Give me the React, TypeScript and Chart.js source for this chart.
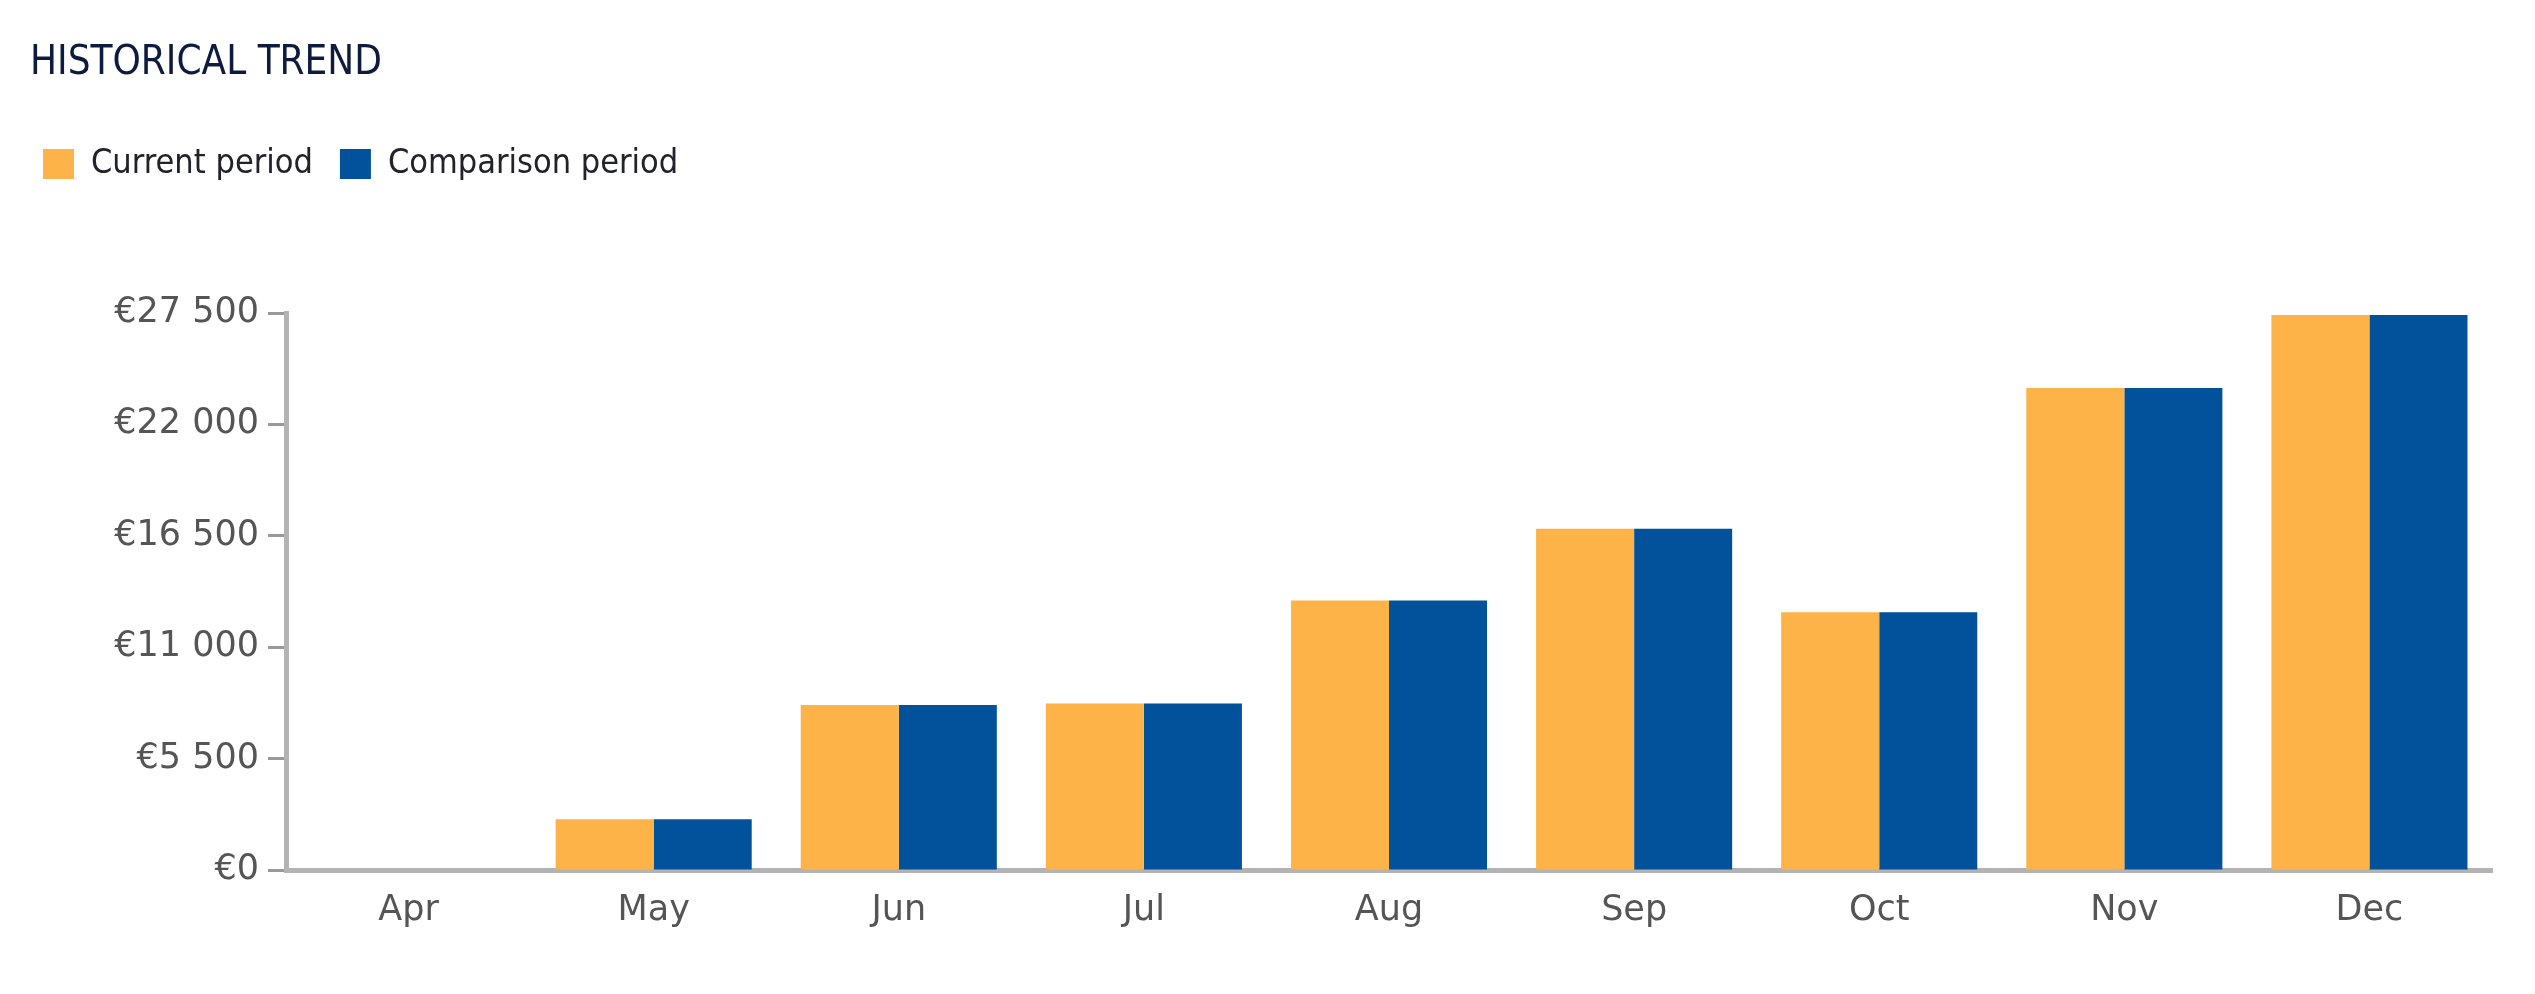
import React, { useEffect, useRef } from "react";
import { Chart, registerables } from "chart.js";

Chart.register(...registerables);

const titleText = "HISTORICAL TREND";
const categories = ["Apr", "May", "Jun", "Jul", "Aug", "Sep", "Oct", "Nov", "Dec"];
const seriesLabels = ["Current period", "Comparison period"];
const currentPeriod = [0, 2500, 8150, 8220, 13300, 16850, 12730, 23800, 27400];
const comparisonPeriod = [0, 2500, 8150, 8220, 13300, 16850, 12730, 23800, 27400];
const yTickValues = [0, 5500, 11000, 16500, 22000, 27500];

const ORANGE = "#FDB347";
const BLUE = "#02529B";
const NARROW = "'Liberation Sans Narrow', 'DejaVu Sans Condensed', 'Liberation Sans', sans-serif";
const TICKFONT = "'DejaVu Sans', 'Liberation Sans', sans-serif";

function formatEuro(v: number): string {
  return "€" + String(v).replace(/\B(?=(\d{3})+(?!\d))/g, " ");
}

const legendSpacer = {
  id: "legendSpacer",
  beforeInit(chart: any) {
    const legend = chart.legend;
    if (!legend) return;
    const origFit = legend.fit;
    legend.fit = function () {
      origFit.call(this);
      this.height = 193;
    };
  },
  afterLayout(chart: any) {
    const legend = chart.legend;
    if (!legend) return;
    legend.left -= 14;
    legend.right -= 14;
  },
};

export default function App() {
  const ref = useRef<HTMLCanvasElement | null>(null);

  useEffect(() => {
    if (!ref.current) return;
    const chart = new Chart(ref.current, {
      type: "bar",
      data: {
        labels: categories,
        datasets: [
          {
            label: seriesLabels[0],
            data: currentPeriod,
            backgroundColor: ORANGE,
            borderWidth: 0,
            barPercentage: 1,
            categoryPercentage: 0.8,
          },
          {
            label: seriesLabels[1],
            data: comparisonPeriod,
            backgroundColor: BLUE,
            borderWidth: 0,
            barPercentage: 1,
            categoryPercentage: 0.8,
          },
        ],
      },
      options: {
        responsive: false,
        animation: false,
        devicePixelRatio: 1,
        layout: { padding: { left: 30, right: 43, top: 0, bottom: 42 } },
        plugins: {
          title: {
            display: true,
            text: titleText,
            align: "start",
            color: "#0d1b3e",
            font: { family: NARROW, size: 40, weight: "normal" },
            padding: { top: 40, bottom: 32 },
          },
          legend: {
            display: true,
            position: "top",
            align: "start",
            labels: {
              boxWidth: 31,
              boxHeight: 30,
              padding: 27,
              color: "#22222c",
              font: { family: NARROW, size: 34 },
            },
          },
          tooltip: { enabled: false },
        },
        scales: {
          x: {
            grid: { display: false, drawTicks: false },
            border: { display: true, color: "#b3b3b3", width: 5 },
            ticks: {
              color: "#555555",
              font: { family: TICKFONT, size: 35 },
              padding: 20,
              maxRotation: 0,
            },
          },
          y: {
            min: 0,
            max: 27500,
            afterBuildTicks: (scale: any) => {
              scale.ticks = yTickValues.map((v) => ({ value: v }));
            },
            afterFit: (scale: any) => {
              scale.width = 256;
            },
            grid: {
              drawOnChartArea: false,
              drawTicks: true,
              tickLength: 18,
              tickWidth: 3,
              tickColor: "#999999",
            },
            border: { display: true, color: "#b3b3b3", width: 5 },
            ticks: {
              color: "#555555",
              font: { family: TICKFONT, size: 35 },
              padding: 9,
              callback: (v: any) => formatEuro(Number(v)),
            },
          },
        },
      },
      plugins: [legendSpacer],
    });
    return () => chart.destroy();
  }, []);

  return (
    <div style={{ position: "fixed", left: 0, top: 0, width: 2535, height: 994, background: "#fff" }}>
      <canvas ref={ref} width={2535} height={994} style={{ display: "block" }} />
    </div>
  );
}
